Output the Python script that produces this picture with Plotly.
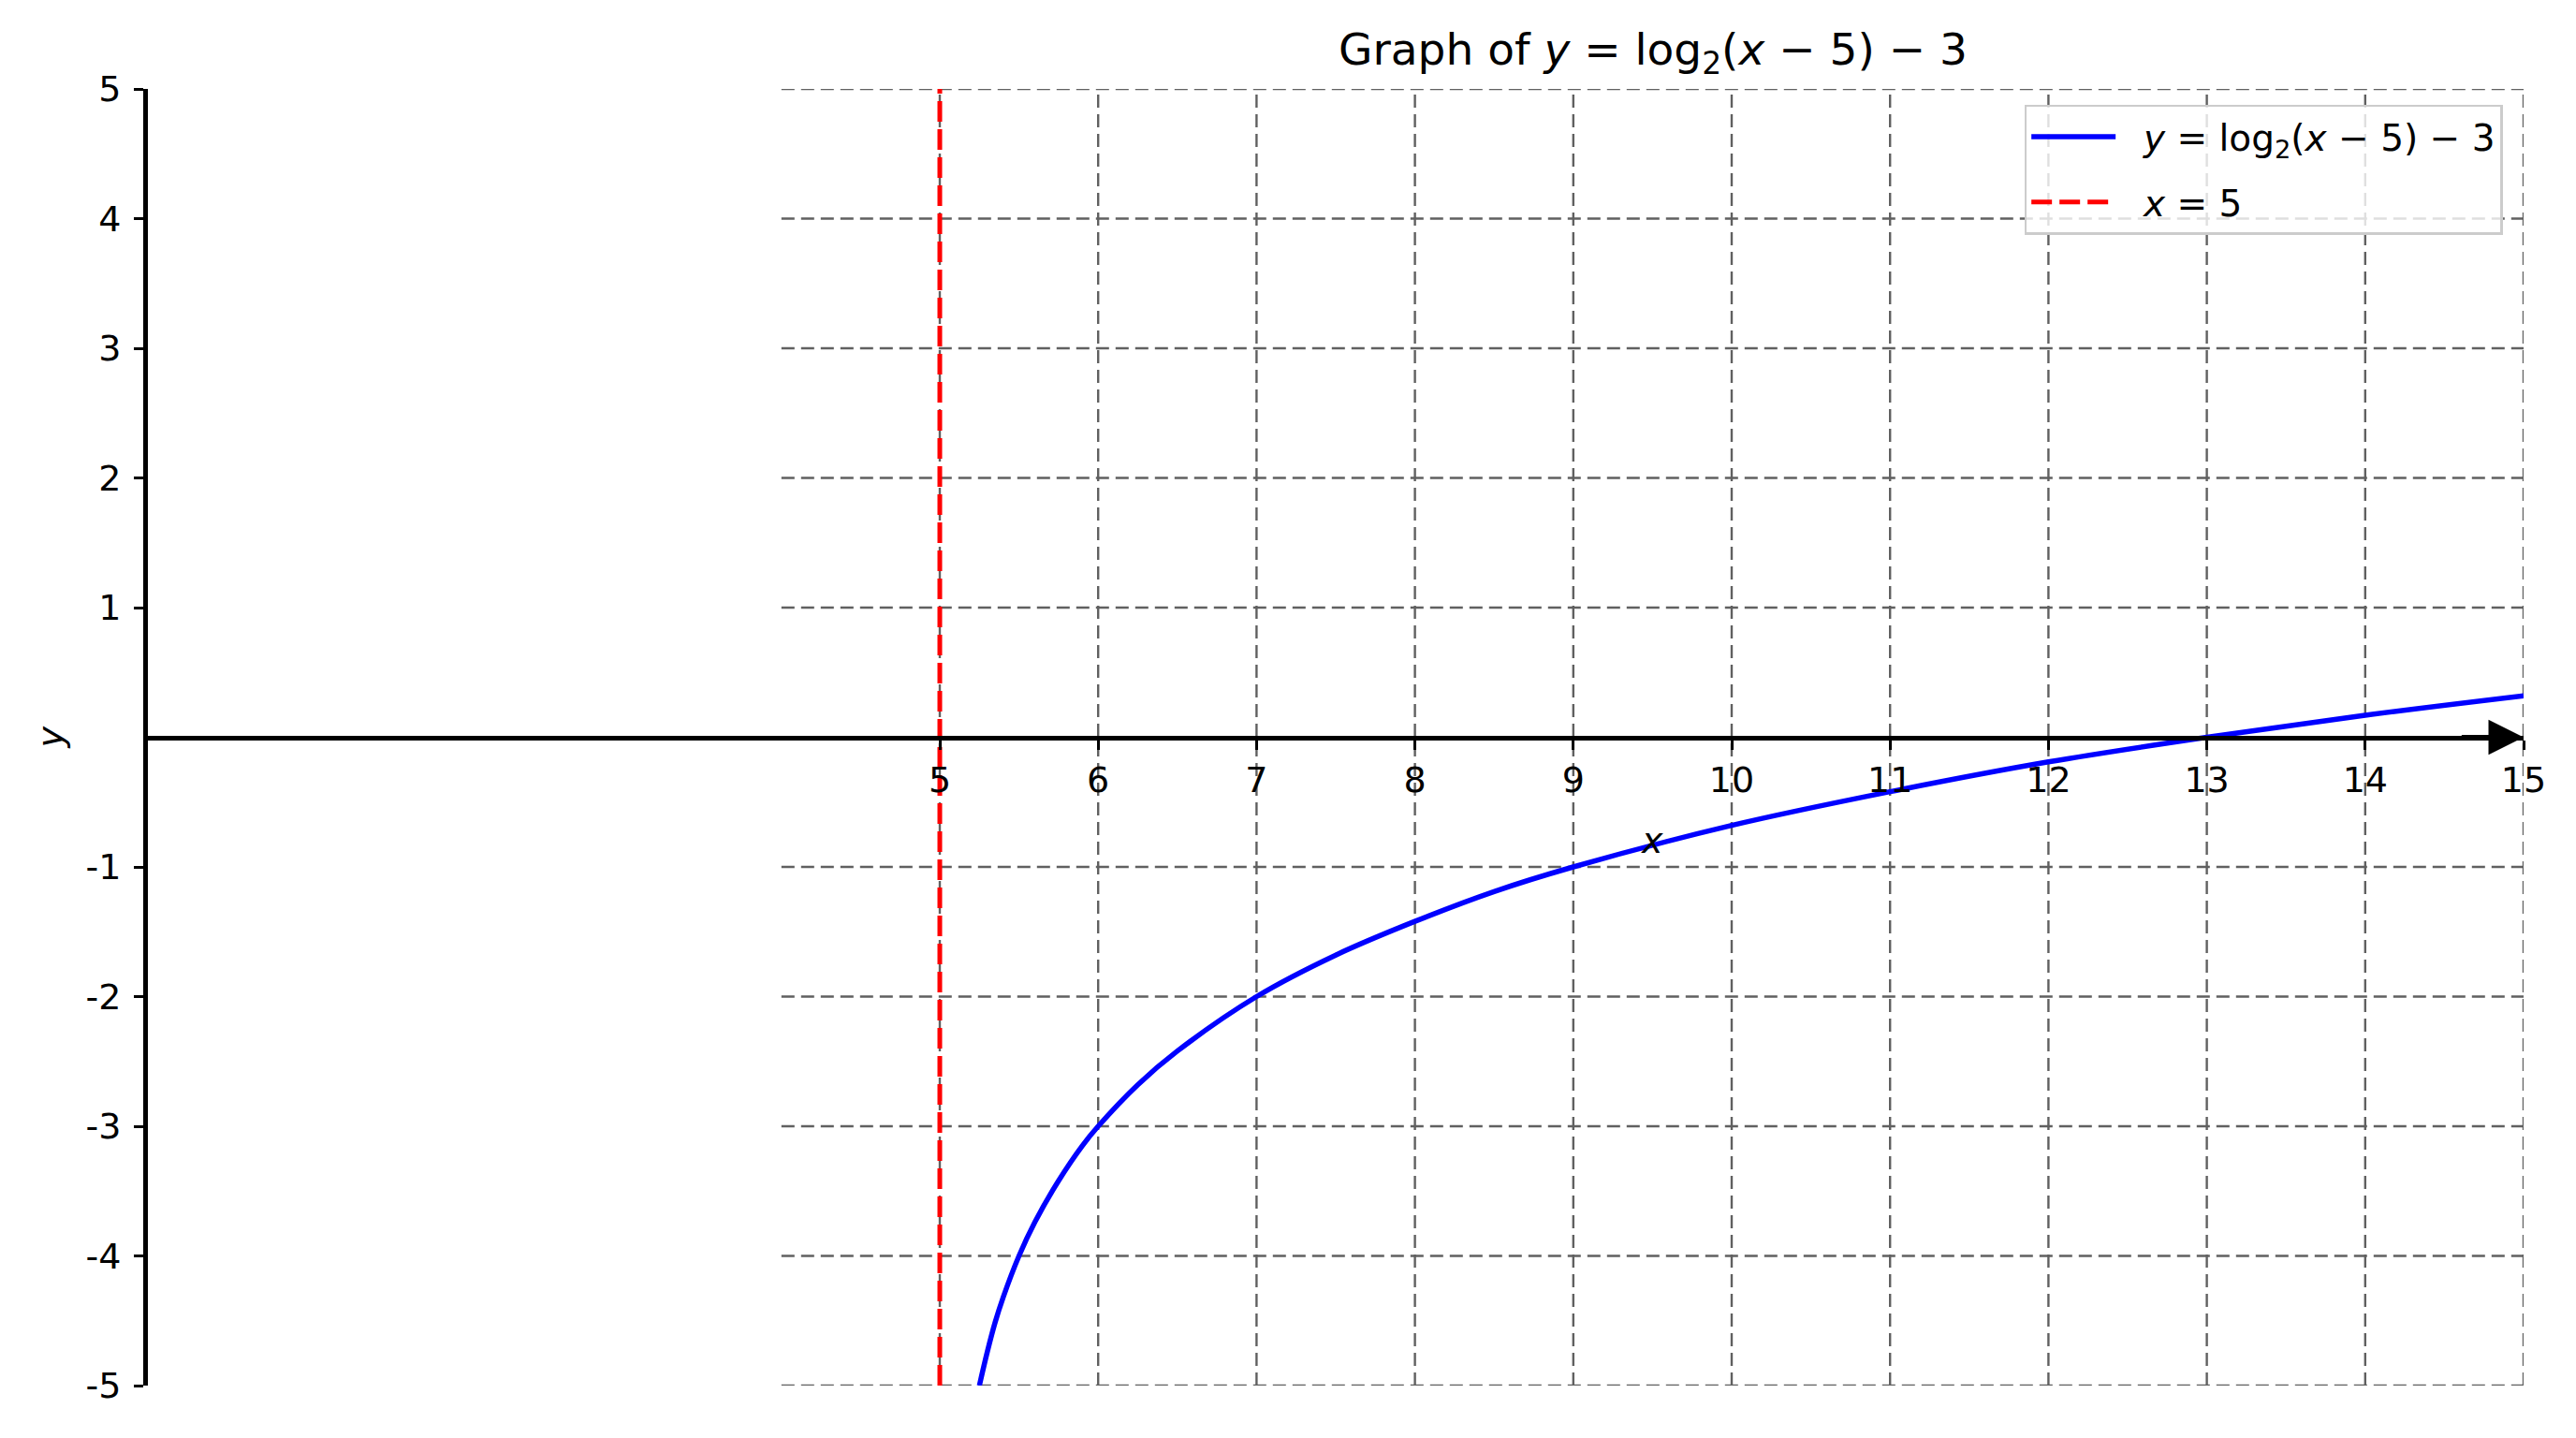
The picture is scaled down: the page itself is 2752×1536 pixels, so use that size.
import plotly.graph_objects as go

# ---- data ----
curve_x = [5.25, 5.3, 5.35, 5.4, 5.5, 5.6, 5.75, 5.9, 6.0, 6.25, 6.5, 7.0, 7.5, 8.0, 8.5, 9.0, 10.0, 11.0, 12.0, 13.0, 14.0, 15.0]
curve_y = [-5.0, -4.74, -4.51, -4.32, -4.0, -3.74, -3.42, -3.15, -3.0, -2.68, -2.42, -2.0, -1.68, -1.42, -1.19, -1.0, -0.68, -0.42, -0.19, 0.0, 0.17, 0.32]
asym_x = [5, 5]
asym_y = [-5, 5]
x_ticks = [5, 6, 7, 8, 9, 10, 11, 12, 13, 14, 15]
y_ticks = [-5, -4, -3, -2, -1, 1, 2, 3, 4, 5]
y_tick_text = ["-5", "-4", "-3", "-2", "-1", "1", "2", "3", "4", "5"]
grid_x = [5, 6, 7, 8, 9, 10, 11, 12, 13, 14, 15]
grid_y = [-5, -4, -3, -2, -1, 0, 1, 2, 3, 4, 5]
grid_x_start = 4
x_range = [0, 15]
y_range = [-5, 5]

W, H = 2752, 1536
FONT = "DejaVu Sans"
ML, MR, MT, MB = 150, 64, 87, 64
PW = W - ML - MR

fig = go.Figure()

fig.add_trace(go.Scatter(
    x=curve_x, y=curve_y, mode="lines",
    line=dict(color="#0000ff", width=5.5, shape="spline", smoothing=1.0),
    name="\u00a0\u00a0<i>y</i> = log<sub>2</sub>(<i>x</i> − 5) − 3",
    legendgroup="a",
))
fig.add_trace(go.Scatter(
    x=asym_x, y=asym_y, mode="lines",
    line=dict(color="#ff0000", width=5, dash="22px,8px"),
    name="\u00a0\u00a0<i>x</i> = 5",
    legendgroup="b",
))

shapes = []
for gy in grid_y:
    if gy == 0:
        continue
    shapes.append(dict(type="line", xref="x", yref="y", x0=grid_x_start, x1=x_range[1], y0=gy, y1=gy,
                       line=dict(color="#606060", width=2.4, dash="14px,7px"), layer="below"))
for gx in grid_x:
    shapes.append(dict(type="line", xref="x", yref="y", x0=gx, x1=gx, y0=y_range[0], y1=y_range[1],
                       line=dict(color="#606060", width=2.4, dash="14px,7px"), layer="below"))

fig.update_layout(
    width=W, height=H,
    margin=dict(l=ML, r=MR, t=MT, b=MB),
    paper_bgcolor="white", plot_bgcolor="white",
    font=dict(family=FONT, size=38, color="black"),
    shapes=shapes,
    showlegend=True,
    legend=dict(
        x=0.9912, y=0.988, xanchor="right", yanchor="top",
        bgcolor="rgba(255,255,255,0.8)", bordercolor="#cccccc", borderwidth=2.5,
        font=dict(family=FONT, size=39), itemwidth=90,
        tracegroupgap=16,
    ),
    title=dict(
        text="Graph of <i>y</i> = log<sub>2</sub>(<i>x</i> − 5) − 3",
        x=(1766 - 8 - ML) / PW, xref="paper", xanchor="center",
        y=1 - 45 / H, yref="container", yanchor="middle",
        font=dict(family=FONT, size=47, color="black"),
    ),
    xaxis=dict(
        range=x_range, showgrid=False, zeroline=False,
        showline=True, linecolor="black", linewidth=5,
        anchor="free", position=0.5,
        tickmode="array", tickvals=x_ticks, ticktext=[str(v) for v in x_ticks],
        ticks="outside", ticklen=10, tickwidth=2.5, tickcolor="black",
        tickfont=dict(family=FONT, size=38, color="black"),
    ),
    yaxis=dict(
        range=y_range, showgrid=False, zeroline=False,
        showline=True, linecolor="black", linewidth=5,
        tickmode="array", tickvals=y_ticks, ticktext=y_tick_text,
        ticks="outside", ticklen=10, tickwidth=2.5, tickcolor="black",
        ticklabelstandoff=6,
        tickfont=dict(family=FONT, size=38, color="black"),
    ),
    annotations=[
        dict(x=x_range[1], y=0, ax=x_range[1] - 0.4, ay=0, xref="x", yref="y", axref="x", ayref="y",
             text="", showarrow=True, arrowhead=2, arrowsize=1.5, arrowwidth=5, arrowcolor="black"),
        dict(x=9.5, y=-0.8, xref="x", yref="y", text="<i>x</i>", showarrow=False,
             xanchor="center", yanchor="middle",
             font=dict(family=FONT, size=38, color="black")),
        dict(x=(53 - 8 - ML) / PW, y=0, xref="paper", yref="y", text="<i>y</i>", showarrow=False,
             xanchor="center", yanchor="middle",
             textangle=-90, font=dict(family=FONT, size=38, color="black")),
    ],
)

fig.write_html("out.html")
